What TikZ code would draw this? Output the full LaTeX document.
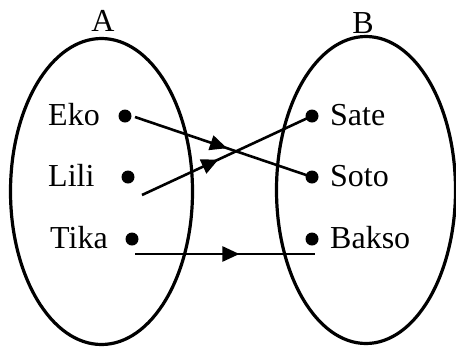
\documentclass[tikz,border=0pt]{standalone}
\usepackage{fontspec}
\setmainfont{Liberation Serif}
\usetikzlibrary{arrows.meta,decorations.markings}
\begin{document}
\begin{tikzpicture}[x=1pt,y=-1pt,
  settext/.style={font=\fontsize{32}{38}\selectfont, inner sep=0pt, anchor=base west},
  setlabel/.style={font=\fontsize{32}{38}\selectfont, inner sep=0pt, anchor=base},
  elem/.style={circle, fill=black, inner sep=0pt, minimum size=13pt},
  setring/.style={line width=3.2pt},
  maparrow/.style={line width=2.6pt, decoration={markings,
     mark=at position #1 with {\arrow{Triangle[length=17pt,width=15pt]}}}, postaction={decorate}}
]
\useasboundingbox (0,0) rectangle (456,349);
% sets
\draw[setring] (101.5,191.5) ellipse [x radius=91, y radius=153];
\draw[setring] (366,190) ellipse [x radius=89.5, y radius=153.5];
\node[setlabel] (la) at (103,31) {A};
\node[setlabel] (lb) at (363,33) {B};
% elements of A
\node[settext] (teko) at (48,125) {Eko};
\node[settext] (tlili) at (48,186) {Lili};
\node[settext] (ttika) at (50,248) {Tika};
\node[elem] (eko) at (125,116) {};
\node[elem] (lili) at (128,177) {};
\node[elem] (tika) at (132,239) {};
% elements of B
\node[settext] (tsate) at (330,125) {Sate};
\node[settext] (tsoto) at (330,186) {Soto};
\node[settext] (tbakso) at (330,248) {Bakso};
\node[elem] (sate) at (312,116) {};
\node[elem] (soto) at (312,177) {};
\node[elem] (bakso) at (312,239) {};
% arrows
\coordinate (ekostart) at (135,117);
\coordinate (lilistart) at (142,195);
\coordinate (tikastart) at (135,254);
\coordinate (baksoend) at (315,254);
\draw[maparrow=0.52] (ekostart) -- (soto.center);
\draw[maparrow=0.45] (lilistart) -- (sate.center);
\draw[maparrow=0.58] (tikastart) -- (baksoend);
\end{tikzpicture}
\end{document}
